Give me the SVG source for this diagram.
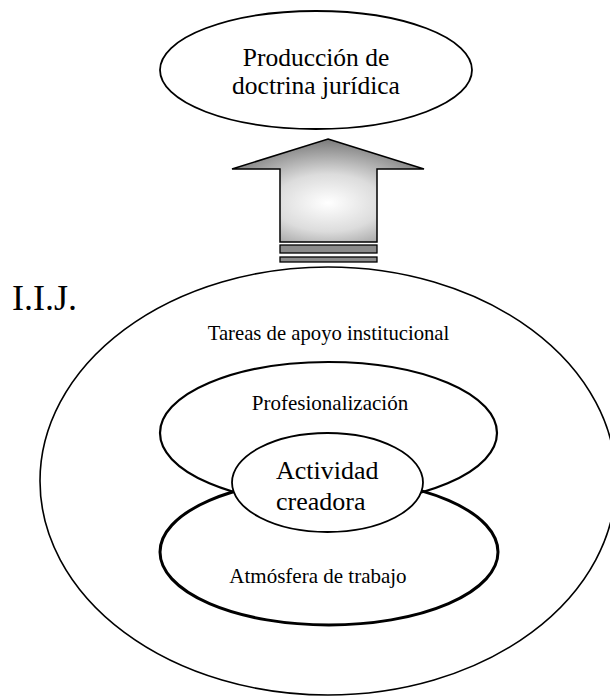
<svg xmlns="http://www.w3.org/2000/svg" width="610" height="696" viewBox="0 0 610 696">
  <style>
    .lbl { font-family: "Liberation Serif", "Times New Roman", serif; fill: #000; }
    .ring { fill: none; stroke: #000; }
  </style>
  <defs>
    <radialGradient id="arrowShade" cx="0.5" cy="0.62" r="0.62">
      <stop offset="0" stop-color="#ffffff"/>
      <stop offset="0.45" stop-color="#dcdcdc"/>
      <stop offset="1" stop-color="#7a7a7a"/>
    </radialGradient>
  </defs>
  <rect width="610" height="696" fill="#fff"/>

  <!-- Institution label -->
  <g id="iij-label">
    <text class="lbl" x="12" y="310" font-size="36">I.I.J.</text>
  </g>

  <!-- Outer ring: institutional support -->
  <g id="apoyo">
    <ellipse class="ring" cx="328" cy="481" rx="288" ry="214" stroke-width="1.6"/>
    <text class="lbl" x="328.5" y="340" font-size="20.7" text-anchor="middle">Tareas de apoyo institucional</text>
  </g>

  <!-- Upper loop -->
  <g id="profesionalizacion">
    <ellipse class="ring" cx="328.5" cy="433" rx="168.5" ry="71" stroke-width="2.2"/>
    <text class="lbl" x="330" y="410" font-size="21" text-anchor="middle">Profesionalización</text>
  </g>

  <!-- Lower loop -->
  <g id="atmosfera">
    <ellipse class="ring" cx="329" cy="552" rx="169" ry="73" stroke-width="3"/>
    <text class="lbl" x="318" y="583" font-size="21" text-anchor="middle">Atmósfera de trabajo</text>
  </g>

  <!-- Core -->
  <g id="actividad">
    <ellipse cx="327.5" cy="482.5" rx="95.5" ry="49.5" fill="#fff" stroke="#000" stroke-width="1.8"/>
    <text class="lbl" x="276" y="479" font-size="26">Actividad</text>
    <text class="lbl" x="276" y="510" font-size="26">creadora</text>
  </g>

  <!-- Output -->
  <g id="produccion">
    <ellipse cx="316" cy="70" rx="156" ry="59" fill="#fff" stroke="#000" stroke-width="1.8"/>
    <text class="lbl" x="316" y="66" font-size="25.5" text-anchor="middle">Producción de</text>
    <text class="lbl" x="316" y="94" font-size="25.5" text-anchor="middle">doctrina jurídica</text>
  </g>

  <!-- Connector: upward block arrow -->
  <g id="connectors">
    <path d="M328 139 L424 169 L377 169 L377 242 L280 242 L280 169 L232 169 Z" fill="url(#arrowShade)" stroke="#000" stroke-width="1.5" stroke-linejoin="miter"/>
    <rect x="280" y="245" width="97" height="8" fill="#8c8c8c" stroke="#000" stroke-width="1.3"/>
    <rect x="280" y="257" width="97" height="5" fill="#8c8c8c" stroke="#000" stroke-width="1.3"/>
  </g>
</svg>
